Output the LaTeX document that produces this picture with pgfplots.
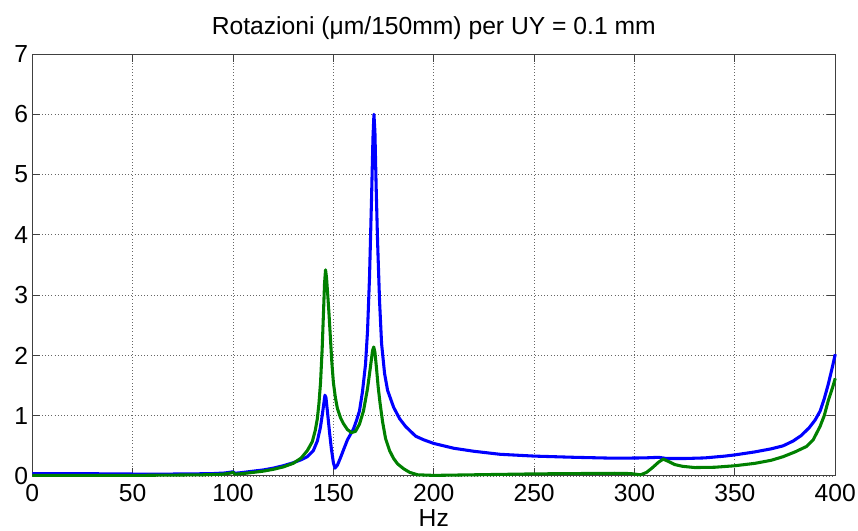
\documentclass[border=0pt]{standalone}
\usepackage{fontspec}
\setmainfont{Liberation Sans}
\usepackage{pgfplots}
\pgfplotsset{compat=1.18}

\definecolor{mblue}{RGB}{0,0,255}
\definecolor{mgreen}{RGB}{0,128,0}

\begin{document}
\begin{tikzpicture}
\begin{axis}[
  scale only axis,
  width=602.25pt, height=316.5pt,
  xmin=0, xmax=400, ymin=0, ymax=7,
  enlargelimits=false,
  xtick={0,50,...,400},
  ytick={0,1,...,7},
  font=\fontsize{18.5}{22}\selectfont,
  /pgf/number format/assume math mode=true,
  axis line style={black!75, line width=0.75pt},
  tick style={black!75, line width=0.75pt},
  major tick length=6pt,
  tick align=inside,
  xtick pos=both, ytick pos=both,
  grid=major,
  major grid style={dotted, black!60, line width=0.6pt},
  xticklabel style={anchor=base, inner sep=0pt, yshift=-19.5pt},
  yticklabel style={anchor=east, inner sep=0pt, xshift=-3pt},
  title={Rotazioni (μm/150mm) per UY = 0.1 mm},
  every axis title shift=0pt,
  title style={at={(axis description cs:0.5,1)}, anchor=base, inner sep=0pt, yshift=14.8pt},
  xlabel={Hz},
  xlabel style={at={(axis description cs:0.5,0)}, anchor=base, inner sep=0pt, yshift=-38pt},
  clip=false,
]
% first response curve
\addplot[mblue, line width=2.3pt, line join=round] coordinates {
(0,0.04) (20,0.04) (40,0.035) (60,0.03) (80,0.035) (90,0.04) (96,0.05) (99,0.065)
(100,0.07) (101,0.045) (104,0.055) (110,0.08) (115,0.10) (120,0.13) (125,0.17)
(130,0.22) (134,0.27) (137,0.32) (140,0.42) (142,0.58) (143.5,0.80) (144.5,1.02)
(145.3,1.22) (145.8,1.34) (146.3,1.30) (147,1.08) (148,0.75) (149,0.45) (150,0.22)
(150.8,0.13) (152,0.18) (153.5,0.30) (155,0.43) (157,0.60) (159,0.72) (160,0.78)
(161.5,0.92) (163,1.08) (164.5,1.40) (166,1.85) (167,2.4) (168,3.3) (169,4.6)
(169.7,5.6) (170.2,6.0) (170.7,5.7) (171.3,4.8) (172,3.9) (173,2.9) (174,2.2)
(175.5,1.70) (177,1.42) (180,1.14) (183,0.95) (186,0.82) (191,0.66) (195,0.60)
(200,0.54) (210,0.46) (220,0.41) (233,0.36) (250,0.33) (270,0.31) (290,0.295)
(305,0.30) (312,0.31) (316,0.29) (325,0.29) (335,0.30) (345,0.33) (350,0.35)
(360,0.40) (368,0.45) (374,0.50) (379,0.58) (383,0.67) (387,0.80) (390,0.93)
(392.5,1.08) (394.5,1.28) (396.5,1.52) (398.3,1.77) (400,2.02)
};
% second response curve
\addplot[mgreen, line width=2.3pt, line join=round] coordinates {
(0,0.01) (30,0.01) (50,0.01) (70,0.015) (85,0.02) (95,0.03) (99,0.05) (100,0.06)
(101,0.03) (105,0.04) (110,0.06) (115,0.08) (120,0.11) (125,0.15) (130,0.21)
(134,0.30) (137,0.42) (139.5,0.57) (141,0.76) (142,0.95) (142.8,1.20) (143.6,1.55)
(144.4,2.10) (145,2.65) (145.6,3.20) (146.1,3.42) (146.6,3.28) (147.2,3.0)
(147.8,2.7) (148.5,2.3) (149.2,1.9) (150,1.55) (151,1.30) (152,1.12) (153.5,0.97)
(155,0.87) (157,0.77) (159,0.72) (161,0.74) (163,0.86) (165,1.08) (167,1.45)
(168.5,1.82) (169.5,2.08) (170.1,2.14) (170.7,2.05) (171.5,1.78) (172.3,1.48)
(173.2,1.22) (174.5,0.90) (176,0.62) (178,0.42) (180,0.29) (182,0.20) (185,0.12)
(188,0.06) (192,0.02) (200,0.01) (210,0.015) (230,0.025) (250,0.035) (270,0.04)
(290,0.045) (298,0.04) (303,0.02) (306,0.06) (309,0.14) (312,0.23) (314.3,0.28)
(317,0.24) (320,0.19) (324,0.16) (330,0.14) (340,0.145) (350,0.17) (360,0.21)
(368,0.26) (374,0.32) (380,0.40) (385.7,0.49) (389,0.60) (392.4,0.82) (394.5,1.00)
(396.6,1.26) (398.5,1.45) (400,1.62)
};
\end{axis}
\pgfresetboundingbox
\useasboundingbox (-24.2pt,-41.25pt) rectangle (619.3pt,357pt);
\end{tikzpicture}
\end{document}
